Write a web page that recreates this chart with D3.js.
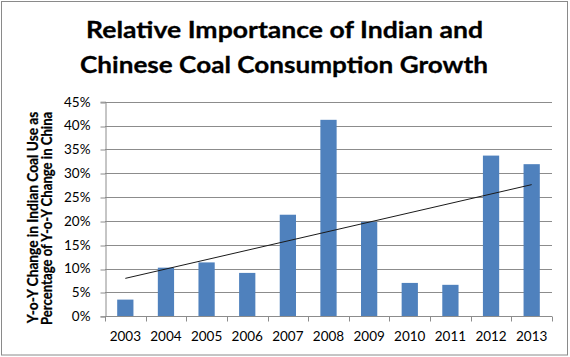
<!DOCTYPE html>
<html><head><meta charset="utf-8">
<script src="https://cdn.jsdelivr.net/npm/d3@7"></script>
<style>html,body{margin:0;padding:0;background:#fff;}svg{display:block;}</style>
</head><body>
<script>
const years = ["2003","2004","2005","2006","2007","2008","2009","2010","2011","2012","2013"];
const values = [3.5, 10.2, 11.3, 9.1, 21.3, 41.2, 19.8, 7.0, 6.6, 33.7, 31.9];
const yTicks = [0,5,10,15,20,25,30,35,40,45];
const titleLines = ["Relative Importance of Indian and", "Chinese Coal Consumption Growth"];
const yTitleLines = ["Y-o-Y Change in Indian Coal Use as", "Percentage of Y-o-Y Change in China"];

const W = 570, H = 357;
const L = 105, R = 552, T = 101.7, B = 316.3;
const font = "Lato, 'Open Sans', sans-serif";

const svg = d3.select("body").append("svg").attr("width", W).attr("height", H);
svg.append("rect").attr("x",1.5).attr("y",1.5).attr("width",566).attr("height",353.5)
  .attr("fill","#fff").attr("stroke","#8a8a8a").attr("stroke-width",1);

const x = d3.scaleBand().domain(years).range([L,R]).paddingInner(0.6).paddingOuter(0.3);
const y = d3.scaleLinear().domain([0,45]).range([B,T]);

// gridlines
svg.append("g").selectAll("line").data(yTicks.filter(d=>d>0)).join("line")
  .attr("x1",L).attr("x2",R)
  .attr("y1",d=>Math.round(y(d))+0.5).attr("y2",d=>Math.round(y(d))+0.5)
  .attr("stroke","#8c8c8c").attr("stroke-width",1);

// bars
svg.append("g").selectAll("rect").data(values).join("rect")
  .attr("x",(d,i)=>x(years[i])).attr("width",x.bandwidth())
  .attr("y",d=>y(d)).attr("height",d=>y(0)-y(d))
  .attr("fill","#4F81BD");

// y axis
const yAxis = d3.axisLeft(y).tickValues(yTicks).tickFormat(d=>d+"%").tickSize(5).tickPadding(10);
const gy = svg.append("g").attr("transform",`translate(${Math.round(L)+0.5},0)`).call(yAxis);
gy.selectAll("line").attr("stroke","#8c8c8c").attr("transform",d=>`translate(0,${Math.round(y(d))+0.5-y(d)})`);
gy.select(".domain").attr("stroke","#8c8c8c");
gy.selectAll("text").attr("font-family",font).attr("font-size","13.5px").attr("fill","#000").attr("x",-15);

// x axis
const gx = svg.append("g").attr("transform",`translate(0,${Math.round(B)+0.5})`);
gx.append("line").attr("x1",L).attr("x2",R).attr("stroke","#8c8c8c");
const step = x.step();
gx.selectAll("line.tk").data(d3.range(years.length+1)).join("line").attr("class","tk")
  .attr("x1",i=>Math.round(L+i*step)+0.5).attr("x2",i=>Math.round(L+i*step)+0.5)
  .attr("y1",0).attr("y2",5).attr("stroke","#8c8c8c");
gx.selectAll("text").data(years).join("text")
  .attr("x",d=>x(d)+x.bandwidth()/2).attr("y",24.5)
  .attr("text-anchor","middle").attr("font-family",font).attr("font-size","13.5px").attr("fill","#000")
  .text(d=>d);

// linear trendline (least squares over the bar values)
const xs = values.map((d,i)=>i+1);
const mx = d3.mean(xs), my = d3.mean(values);
const slope = d3.sum(xs.map((xi,i)=>(xi-mx)*(values[i]-my)))/d3.sum(xs.map(xi=>(xi-mx)*(xi-mx)));
const icpt = my - slope*mx;
const trend = [1, years.length].map(k=>[x(years[k-1])+x.bandwidth()/2, y(icpt+slope*k)]);
svg.append("path").attr("d",d3.line()(trend)).attr("stroke","#1a1a1a").attr("stroke-width",1).attr("fill","none");

// title
const tl = [{t:titleLines[0], x1:86, x2:483, yb:38.3},{t:titleLines[1], x1:80, x2:488, yb:73.3}];
svg.append("g").selectAll("text").data(tl).join("text")
  .attr("x",d=>d.x1).attr("y",d=>d.yb).attr("textLength",d=>d.x2-d.x1).attr("lengthAdjust","spacingAndGlyphs")
  .attr("font-family",font).attr("font-weight","bold").attr("font-size","23.5px").attr("fill","#000")
  .attr("stroke","#000").attr("stroke-width",0.3)
  .text(d=>d.t);

// y axis title
const yt = [{t:yTitleLines[0], xb:38, y1:111.7, y2:323.3},{t:yTitleLines[1], xb:51.5, y1:111.7, y2:325}];
svg.append("g").selectAll("text").data(yt).join("text")
  .attr("transform",d=>`translate(${d.xb},${d.y2}) rotate(-90)`)
  .attr("textLength",d=>d.y2-d.y1).attr("lengthAdjust","spacingAndGlyphs")
  .attr("font-family",font).attr("font-weight","bold").attr("font-size","14.5px").attr("fill","#000")
  .attr("stroke","#000").attr("stroke-width",0.25)
  .text(d=>d.t);
</script>
</body></html>
